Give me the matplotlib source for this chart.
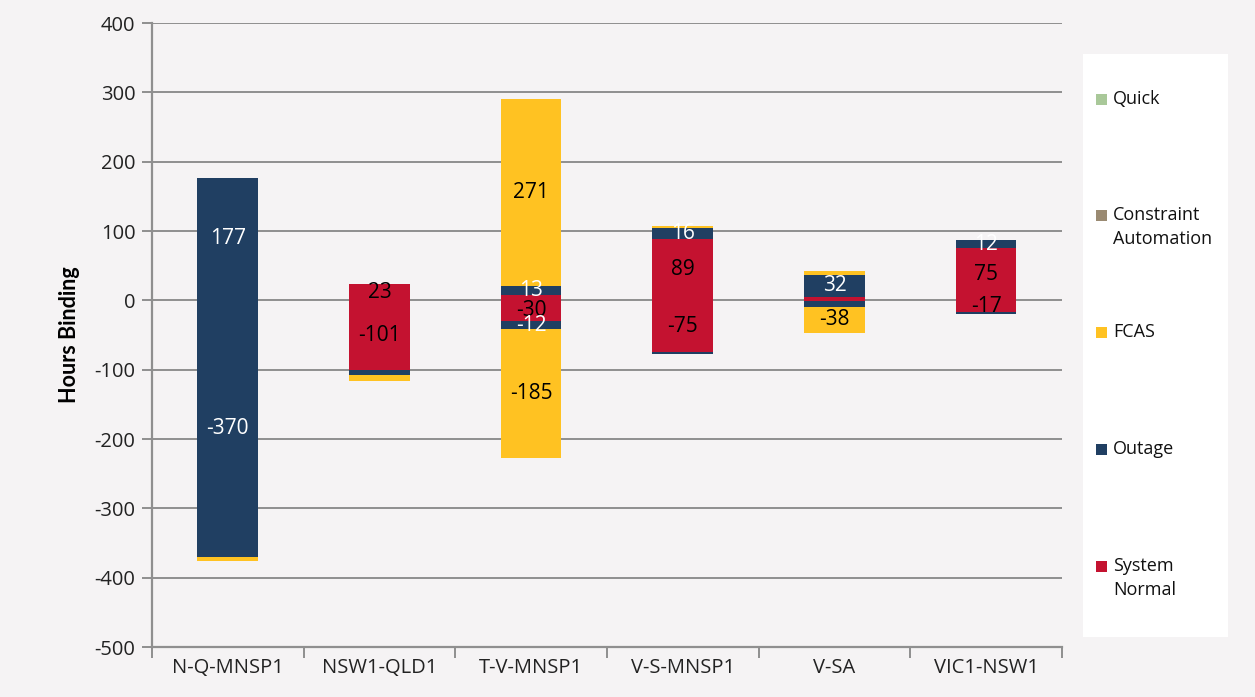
import matplotlib
matplotlib.use("Agg")
import matplotlib.pyplot as plt
import numpy as np
from matplotlib.patches import Rectangle

categories = ["N-Q-MNSP1", "NSW1-QLD1", "T-V-MNSP1", "V-S-MNSP1", "V-SA", "VIC1-NSW1"]
series_names = ["System Normal", "Outage", "FCAS", "Constraint Automation", "Quick"]
# positive parts
system_normal_pos = [0, 23, 7, 89, 5, 75]
outage_pos = [177, 0, 13, 16, 32, 12]
fcas_pos = [0, 0, 271, 2, 5, 0]
constraint_auto_pos = [0, 0, 0, 0, 0, 0]
quick_pos = [0, 0, 0, 0, 0, 0]
# negative parts
system_normal_neg = [0, -101, -30, -75, -1, -17]
outage_neg = [-370, -7, -12, -2, -8, -3]
fcas_neg = [-6, -8, -185, -1, -38, 0]
constraint_auto_neg = [0, 0, 0, 0, 0, 0]
quick_neg = [0, 0, 0, 0, 0, 0]

colors = ["#C41230", "#203F62", "#FFC222", "#9A8A72", "#A9C899"]
label_colors = ["black", "white", "black", "black", "black"]
yticks = [400, 300, 200, 100, 0, -100, -200, -300, -400, -500]

pos_series = [system_normal_pos, outage_pos, fcas_pos, constraint_auto_pos, quick_pos]
neg_series = [system_normal_neg, outage_neg, fcas_neg, constraint_auto_neg, quick_neg]

bg = "#F5F3F4"
plt.rcParams['font.family'] = ['Open Sans', 'DejaVu Sans']

fig = plt.figure(figsize=(12.55, 6.97), dpi=100, facecolor=bg)
ax = fig.add_axes([0.1211, 0.0717, 0.7251, 0.8953], facecolor=bg)

x = np.arange(len(categories))
width = 0.40
grid_c = "#8F8F8F"

for sset in (pos_series, neg_series):
    bottom = np.zeros(len(categories))
    for i, vals in enumerate(sset):
        v = np.array(vals, dtype=float)
        ax.bar(x, v, width, bottom=bottom, color=colors[i], edgecolor="none", zorder=3)
        for xi, (b, val) in enumerate(zip(bottom, v)):
            if abs(val) >= 10:
                ax.text(xi, b + val / 2, f"{int(val)}", ha="center", va="center",
                        fontsize=15, color=label_colors[i], zorder=5)
        bottom = bottom + v

ax.set_ylim(-500, 400)
ax.set_xlim(-0.5, len(categories) - 0.5)
ax.set_yticks(yticks)
ax.set_yticklabels([str(t) for t in yticks], fontsize=14.5, color="#222222")
ax.yaxis.grid(True, color=grid_c, linewidth=1.4, zorder=0)
ax.set_axisbelow(True)
ax.set_xticks(x)
ax.set_xticklabels(categories, fontsize=14.5, color="#222222")
ax.tick_params(axis="x", length=0, pad=8)
ax.tick_params(axis="y", length=7, width=1.4, color=grid_c, pad=5)
# category boundary ticks
ax.set_xticks(np.arange(len(categories) + 1) - 0.5, minor=True)
ax.tick_params(axis="x", which="minor", length=8, width=1.4, color=grid_c)
for s in ["top", "right"]:
    ax.spines[s].set_visible(False)
ax.spines["left"].set_color(grid_c)
ax.spines["left"].set_linewidth(1.6)
ax.spines["bottom"].set_color(grid_c)
ax.spines["bottom"].set_linewidth(1.6)
ax.set_ylabel("Hours Binding", fontsize=15.5, fontweight="bold", labelpad=10,
              family=["Lato", "DejaVu Sans"])

# legend panel
lax = fig.add_axes([0.863, 0.0861, 0.1155, 0.8365])
lax.set_xlim(0, 145)
lax.set_ylim(637, 54)
lax.axis("off")
lax.add_patch(Rectangle((0, 54), 145, 583, facecolor="white", edgecolor="none"))
legend_labels = ["Quick", "Constraint\nAutomation", "FCAS", "Outage", "System\nNormal"]
legend_colors = [colors[4], colors[3], colors[2], colors[1], colors[0]]
legend_y = [100, 216, 333, 450, 567]
for lab, col, yy in zip(legend_labels, legend_colors, legend_y):
    lax.add_patch(Rectangle((13, yy - 6), 11, 11, facecolor=col, edgecolor="none"))
    lax.text(30, yy - 10, lab, ha="left", va="top", fontsize=13, color="#111111",
             linespacing=1.4)

fig.savefig("out.png", dpi=100, facecolor=bg)
